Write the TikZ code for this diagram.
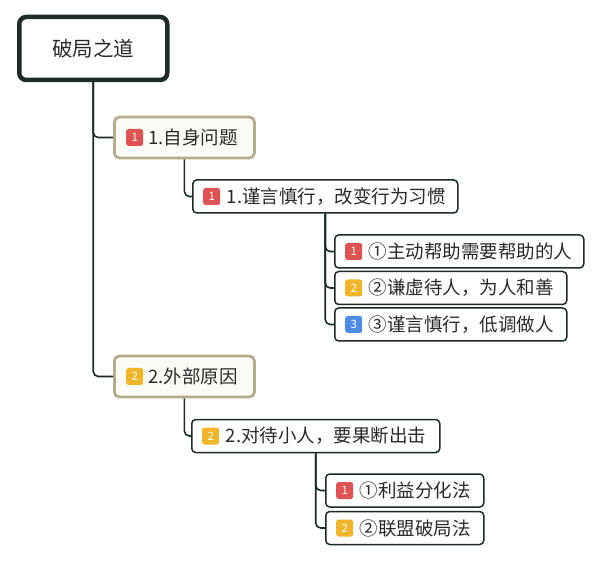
\documentclass[tikz,border=0pt]{standalone}
\usepackage{fontspec}
\setmainfont{Noto Sans CJK SC}
\usepackage{tikz}
\usetikzlibrary{positioning}

\definecolor{rootline}{HTML}{1E2B28}
\definecolor{khaki}{HTML}{B5AD8A}
\definecolor{cream}{HTML}{FCFCF6}
\definecolor{textgray}{HTML}{2A2A2A}
\definecolor{tagred}{HTML}{E05353}
\definecolor{tagyellow}{HTML}{F1B52A}
\definecolor{tagblue}{HTML}{4D8CE4}

\begin{document}
\begin{tikzpicture}[x=1pt, y=-1pt,
	root/.style={draw=rootline, line width=4.5pt, rounded corners=7pt, fill=white, minimum width=148pt, minimum height=63pt, anchor=west, text=textgray, font=\fontsize{20.5}{24}\selectfont},
	main/.style={draw=khaki, line width=2.8pt, rounded corners=5pt, fill=cream, minimum height=41pt, inner xsep=14pt, text width=#1, align=left, anchor=west, text=textgray, font=\fontsize{18.5}{22}\selectfont},
	sub/.style={draw=rootline, line width=1.5pt, rounded corners=4pt, fill=white, minimum height=33pt, inner xsep=12pt, text width=#1, align=left, anchor=west, text=textgray, font=\fontsize{18.5}{22}\selectfont},
	badge/.style={fill=#1, rounded corners=2.5pt, minimum size=17pt, inner sep=0pt, text=white, font=\fontsize{11.5}{12}\selectfont},
	link/.style={draw=rootline, line width=1.6pt, rounded corners=5pt}]

	\useasboundingbox[fill=white] (0,0) rectangle (600,561);

	\node[root] (root) at (17,48.5) {破局之道};

	\node[main=112pt] (n1) at (113,137.5) {\hspace*{20pt}1.自身问题};
	\node[sub=241pt] (n11) at (192,196.5) {\hspace*{22pt}1.谨言慎行，改变行为习惯};
	\node[sub=225pt] (a1) at (334,251.5) {\hspace*{22pt}①主动帮助需要帮助的人};
	\node[sub=208pt] (a2) at (334,288) {\hspace*{22pt}②谦虚待人，为人和善};
	\node[sub=208pt] (a3) at (334,324.5) {\hspace*{22pt}③谨言慎行，低调做人};

	\node[main=112pt] (n2) at (113,376.5) {\hspace*{20pt}2.外部原因};
	\node[sub=224pt] (n21) at (191,436) {\hspace*{22pt}2.对待小人，要果断出击};
	\node[sub=134pt] (b1) at (325,490.5) {\hspace*{22pt}①利益分化法};
	\node[sub=134pt] (b2) at (325,528) {\hspace*{22pt}②联盟破局法};

	\node[badge=tagred, right=13pt of n1.west] (n1t) {1};
	\node[badge=tagred, right=11pt of n11.west] (n11t) {1};
	\node[badge=tagred, right=11pt of a1.west] (a1t) {1};
	\node[badge=tagyellow, right=11pt of a2.west] (a2t) {2};
	\node[badge=tagblue, right=11pt of a3.west] (a3t) {3};
	\node[badge=tagyellow, right=13pt of n2.west] (n2t) {2};
	\node[badge=tagyellow, right=11pt of n21.west] (n21t) {2};
	\node[badge=tagred, right=11pt of b1.west] (b1t) {1};
	\node[badge=tagyellow, right=11pt of b2.west] (b2t) {2};

	\draw[link] (root.south) |- (n1.west);
	\draw[link] (root.south) |- (n2.west);
	\draw[link] (n1.south) |- (n11.west);
	\foreach \leaf in {a1,a2,a3}
		\draw[link] (n11.south) |- (\leaf.west);
	\draw[link] (n2.south) |- (n21.west);
	\foreach \leaf in {b1,b2}
		\draw[link] (n21.south) |- (\leaf.west);

\end{tikzpicture}
\end{document}
